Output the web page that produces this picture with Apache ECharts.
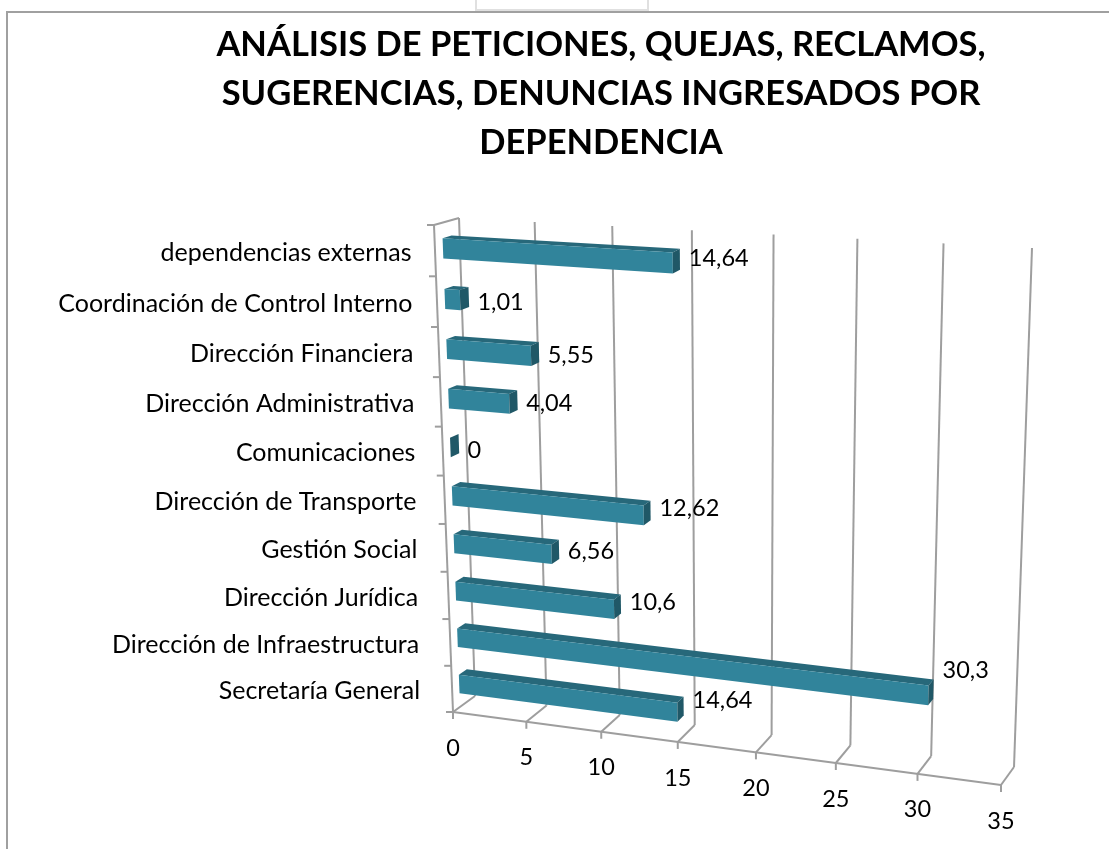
<!DOCTYPE html>
<html lang="es">
<head>
	<meta charset="UTF-8">
	<title>Peticiones por dependencia</title>
	<style type="text/css">
		html,body{margin:0;padding:0;background:#fff;}
		#a{width:1109px;height:849px;}
	</style>
</head>
<body>
	<div id="a"></div>
	<script src="https://cdn.jsdelivr.net/npm/echarts@6/dist/echarts.min.js"></script>
	<script type="text/javascript">
		var categories = ['Secretaría General','Dirección de Infraestructura','Dirección Jurídica','Gestión Social','Dirección de Transporte','Comunicaciones','Dirección Administrativa','Dirección Financiera','Coordinación de Control Interno','dependencias externas'];
		var values = [14.64,30.3,10.6,6.56,12.62,0,4.04,5.55,1.01,14.64];
		var valueLabels = ['14,64','30,3','10,6','6,56','12,62','0','4,04','5,55','1,01','14,64'];
		var xTicks = [0,5,10,15,20,25,30,35];
		var titleText = 'ANÁLISIS DE PETICIONES, QUEJAS, RECLAMOS,\nSUGERENCIAS, DENUNCIAS INGRESADOS POR\nDEPENDENCIA';

		var FONT = 'Lato';
		var categoryFont = '25px ' + FONT;
		var numberFont = '23.5px ' + FONT;
		var gridColor = '#9e9e9e';

		// planos delantero y trasero de la caja 3D: (0,0) (1,0) (1,1) (0,1)
		var frontPlane = quad([[453,712],[1001,785],[1016,262],[434,225]]);
		var backPlane = quad([[475,696],[1014,767],[1032,248],[459,218]]);
		var barFrontW = 0.32, barBackW = 0.68, barShare = 0.2;

		function quad(p){
			var sx = p[0][0]-p[1][0]+p[2][0]-p[3][0], sy = p[0][1]-p[1][1]+p[2][1]-p[3][1];
			var dx1 = p[1][0]-p[2][0], dx2 = p[3][0]-p[2][0], dy1 = p[1][1]-p[2][1], dy2 = p[3][1]-p[2][1];
			var den = dx1*dy2-dx2*dy1;
			var g = (sx*dy2-dx2*sy)/den, h = (dx1*sy-sx*dy1)/den;
			return {
				a:p[1][0]-p[0][0]+g*p[1][0], b:p[3][0]-p[0][0]+h*p[3][0], c:p[0][0],
				d:p[1][1]-p[0][1]+g*p[1][1], e:p[3][1]-p[0][1]+h*p[3][1], f:p[0][1], g:g, h:h
			};
		}
		function onPlane(m,u,v){
			var t = m.g*u+m.h*v+1;
			return [(m.a*u+m.b*v+m.c)/t,(m.d*u+m.e*v+m.f)/t];
		}
		// u,v salen de la escala del eje; w es la profundidad
		function project(u,v,w){
			var f = onPlane(frontPlane,u,v), b = onPlane(backPlane,u,v);
			return [f[0]+(b[0]-f[0])*w,f[1]+(b[1]-f[1])*w];
		}
		function toUnit(params,pt){
			var c = params.coordSys;
			return [(pt[0]-c.x)/c.width,(c.y+c.height-pt[1])/c.height];
		}
		function line(a,b,w){
			return {type:'line',shape:{x1:a[0],y1:a[1],x2:b[0],y2:b[1]},style:{stroke:gridColor,lineWidth:w||2}};
		}
		function poly(points,color){
			return {type:'polygon',shape:{points:points},style:{fill:color}};
		}
		function text(str,x,y,align,font){
			return {type:'text',style:{text:str,x:x,y:y,fill:'#000',font:font,align:align,verticalAlign:'middle'}};
		}

		var myChart = echarts.init(document.getElementById('a'));

		function renderTick(params,api){
			var u = toUnit(params,api.coord([api.value(0),0]))[0];
			var front = project(u,0,0);
			return {type:'group',children:[
				line(project(u,1,1),project(u,0,1)),
				line(project(u,0,1),front),
				line(front,[front[0],front[1]+7]),
				text(String(api.value(0)),front[0],front[1]+36,'center',numberFont)
			]};
		}
		function renderBox(params,api){
			var children = [
				line(project(0,0,0),project(1,0,0)),
				line(project(0,0,0),project(0,1,0)),
				line(project(0,1,0),project(0,1,1))
			];
			for(var i=0;i<=categories.length;i++){
				var p = project(0,i/categories.length,0);
				children.push(line(p,[p[0]-7,p[1]]));
			}
			return {type:'group',children:children};
		}
		function renderBar(params,api){
			var idx = api.value(0), val = api.value(1);
			var end = toUnit(params,api.coord([val,idx]));
			var band = api.size([0,1])[1]/params.coordSys.height;
			var u0 = toUnit(params,api.coord([0,idx]))[0], u1 = end[0];
			var lo = end[1]-band*barShare, hi = end[1]+band*barShare;
			var a = project(u0,lo,barFrontW), b = project(u1,lo,barFrontW), c = project(u1,hi,barFrontW), d = project(u0,hi,barFrontW);
			var e = project(u1,lo,barBackW), f = project(u1,hi,barBackW), g = project(u0,hi,barBackW);
			var wall = project(0,end[1],0);
			// etiqueta de categoria y de valor
			var catX = wall[0]*0.5+194, valY = f[1]+16-0.87*val+0.045*val*idx;
			return {type:'group',children:[
				poly([d,c,f,g],'#27687a'),
				poly([a,b,c,d],'#31849b'),
				poly([b,e,f,c],'#205867'),
				text(valueLabels[idx],f[0]+9,valY,'left',numberFont),
				text(categories[idx],catX,wall[1]+2,'right',categoryFont)
			]};
		}

		var option = {
			animation:false,
			backgroundColor:'#fff',
			title:{
				text:titleText,left:596,top:15,textAlign:'center',
				textStyle:{fontFamily:FONT,fontWeight:'bold',fontSize:34.5,lineHeight:49,color:'#000'}
			},
			grid:{left:100,top:100,width:800,height:600,show:false},
			xAxis:{type:'value',min:0,max:35,interval:5,show:false},
			yAxis:{type:'category',data:categories,show:false},
			graphic:[
				{type:'polyline',shape:{points:[[476,0],[476,10],[648,10],[648,0]]},style:{stroke:'#e0e0e0',lineWidth:2,fill:null}},
				{type:'polyline',shape:{points:[[1109,12],[7,12],[7,849]]},style:{stroke:'#a0a0a0',lineWidth:2,fill:null}}
			],
			series:[
				{type:'custom',silent:true,z:1,renderItem:renderBox,data:[[0]],encode:{x:0}},
				{type:'custom',silent:true,z:2,renderItem:renderTick,data:xTicks.map(function(t){return [t];}),encode:{x:0}},
				{type:'custom',silent:true,z:3,renderItem:renderBar,
					data:values.map(function(v,i){return [i,v];}),encode:{x:1,y:0}}
			]
		};
		myChart.setOption(option);
	</script>
</body>
</html>
